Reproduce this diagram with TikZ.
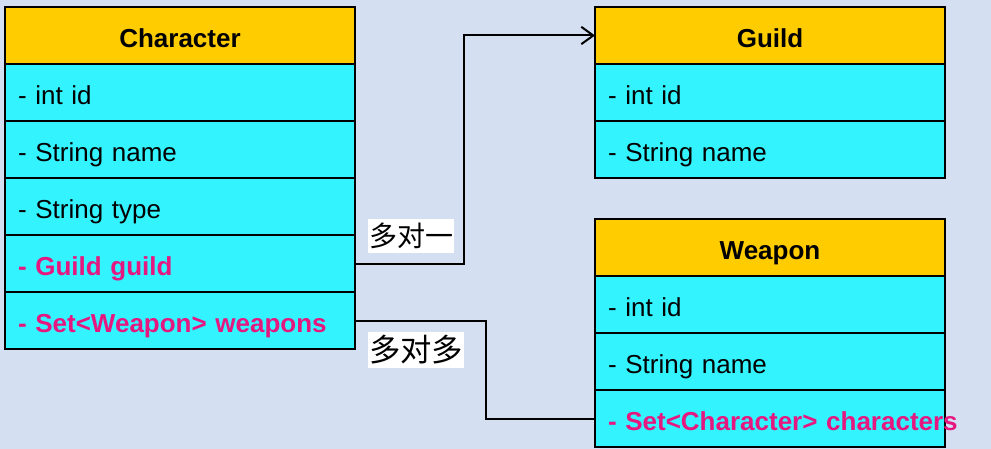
\documentclass[tikz,border=0pt]{standalone}
\usepackage{fontspec}
\setmainfont{Liberation Sans}
\newfontfamily\cjk{Noto Sans CJK SC}
\usepackage{tikz}
\usetikzlibrary{positioning, arrows.meta}
\definecolor{bgblue}{HTML}{D4E0F2}
\definecolor{headgold}{HTML}{FFCC00}
\definecolor{rowcyan}{HTML}{33F3FF}
\definecolor{relpink}{HTML}{E6177F}
\tikzstyle{header} = [rectangle, draw=black, line width=1.5pt, outer sep=0pt, fill=headgold, minimum width=262.5pt, minimum height=42.75pt, inner sep=0pt, text height=18.5pt, text depth=0pt, font=\fontsize{19.5}{23}\selectfont\bfseries, text centered]
\tikzstyle{field} = [rectangle, draw=black, line width=1.5pt, outer sep=0pt, fill=rowcyan, text width=243pt, inner xsep=9.75pt, inner ysep=0pt, minimum height=42.75pt, text height=18.5pt, text depth=0pt, align=left, font=\fontsize{19.5}{23}\selectfont]
\tikzstyle{relfield} = [field, text=relpink, font=\fontsize{19.5}{23}\selectfont\bfseries]
\tikzstyle{arrow} = [line width=1.5pt, -{Straight Barb[length=9pt,width=13pt]}]
\tikzstyle{link} = [line width=1.5pt]
\tikzstyle{tag} = [fill=white, inner xsep=1pt, inner ysep=3pt, text=black]

\begin{document}
\begin{tikzpicture}[x=0.75pt, y=-0.75pt, node distance=0pt]
    \fill[bgblue] (0,0) rectangle (991,449);
    \useasboundingbox (0,0) rectangle (991,449);

    % Character
    \node (chead) [header, anchor=north west] at (5,7) {Character};
    \node (cid) [field, below=of chead] {- int id};
    \node (cname) [field, below=of cid] {- String name};
    \node (ctype) [field, below=of cname] {- String type};
    \node (cguild) [relfield, below=of ctype] {- Guild guild};
    \node (cweap) [relfield, below=of cguild] {\mbox{- Set<Weapon> weapons}};

    % Guild
    \node (ghead) [header, anchor=north west] at (595,7) {Guild};
    \node (gid) [field, below=of ghead] {- int id};
    \node (gname) [field, below=of gid] {- String name};

    % Weapon
    \node (whead) [header, anchor=north west] at (595,219) {Weapon};
    \node (wid) [field, below=of whead] {- int id};
    \node (wname) [field, below=of wid] {- String name};
    \node (wchars) [relfield, below=of wname] {\mbox{- Set<Character> characters}};

    % Relations
    \draw [arrow] (cguild.east) -- ++(109,0) |- (ghead.west);
    \draw [link] (cweap.east) -- ++(131,0) |- (wchars.west);

    % Labels
    \node (one) [tag, font=\cjk\fontsize{21}{24}\selectfont] at (411,236) {多对一};
    \node (many) [tag, font=\cjk\fontsize{23.5}{27}\selectfont] at (416,350) {多对多};
\end{tikzpicture}
\end{document}
